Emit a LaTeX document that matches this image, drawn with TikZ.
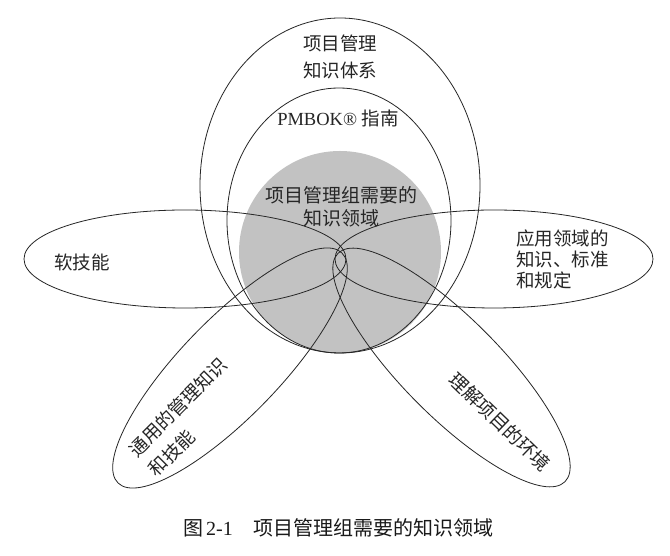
\documentclass[tikz,border=0pt]{standalone}
\usepackage{fontspec}
\setmainfont{Liberation Serif}
\newfontfamily\cjk{Noto Sans CJK SC}
\begin{document}
\begin{tikzpicture}[x=1pt,y=1pt,
  line/.style={draw=black!85, line width=0.8pt},
  lab/.style={font=\cjk\fontsize{18.5}{27}\selectfont, text=black!85, inner sep=0pt, align=center},
  labtight/.style={font=\cjk\fontsize{18.5}{21}\selectfont, text=black!85, inner sep=0pt, align=left},
  labmid/.style={font=\cjk\fontsize{19}{23}\selectfont, text=black!85, inner sep=0pt, align=center},
  captext/.style={font=\cjk\fontsize{20}{24}\selectfont, text=black!90, inner sep=0pt}
]
\useasboundingbox (0,0) rectangle (670,556);
\fill[white] (0,0) rectangle (670,556);
% shaded circle
\fill[black!24] (340,304) circle (101);
% outer ellipse and PMBOK ellipse
\draw[line] (340,370.5) ellipse [x radius=140, y radius=167.5];
\draw[line] (339,335.5) ellipse [x radius=112, y radius=132.5];
% petals
\draw[line] (185,297) ellipse [x radius=161, y radius=49];
\draw[line] (494,297) ellipse [x radius=159, y radius=49];
\draw[line, rotate around={45.8:(230,188)}] (230,188) ellipse [x radius=160.5, y radius=49];
\draw[line, rotate around={-45.2:(451.5,188.5)}] (451.5,188.5) ellipse [x radius=161, y radius=49];
% labels
\node[lab] (pmbok) at (340,499.5) {项目管理\\知识体系};
\node[lab] (guide) at (338,438) {{\rmfamily PMBOK® }指南};
\node[labmid] (team) at (341,349.5) {项目管理组需要的\\知识领域};
\node[lab] (soft) at (82,294) {软技能};
\node[labtight, anchor=west] (appl) at (516,296.5) {应用领域的\\知识、标准\\和规定};
\node[lab, font=\cjk\fontsize{18.5}{27.6}\selectfont, align=left, rotate=45] (general) at (188,139) {通用的管理知识\\和技能};
\node[lab, font=\cjk\fontsize{18.8}{27}\selectfont, rotate=-44] (env) at (500,134) {理解项目的环境};
% caption
\node[captext] (caption) at (338.5,28) {图\hspace{3pt}{\rmfamily 2-1}\hspace{21pt}项目管理组需要的知识领域};
\end{tikzpicture}
\end{document}
